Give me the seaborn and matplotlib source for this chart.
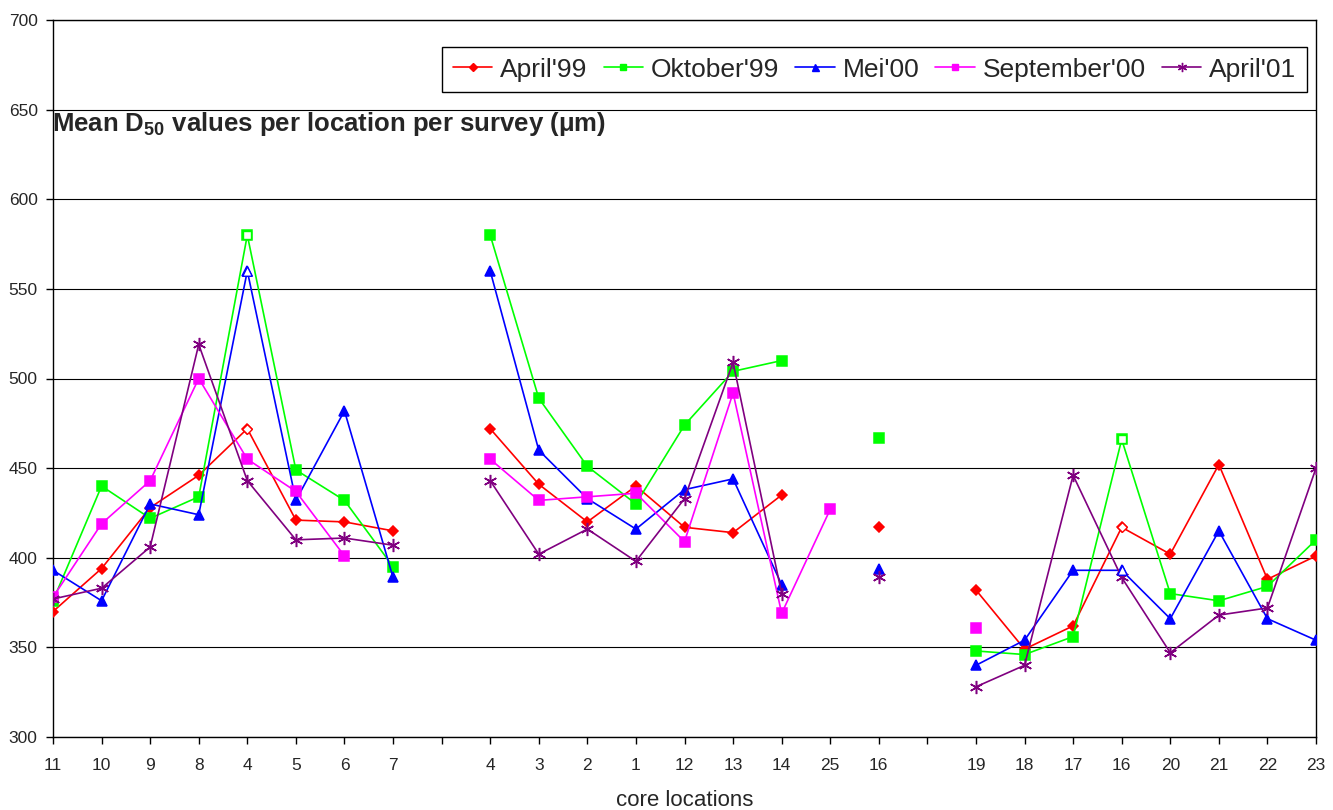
import numpy as np
import pandas as pd
import matplotlib
matplotlib.use("Agg")
import matplotlib.pyplot as plt
import seaborn as sns
from matplotlib.lines import Line2D

nan = np.nan

# ---- data -------------------------------------------------------------
locations = ['11', '10', '9', '8', '4', '5', '6', '7', '',
             '4', '3', '2', '1', '12', '13', '14', '25', '16', '',
             '19', '18', '17', '16', '20', '21', '22', '23']

april99 = [370, 394, 428, 446, 472, 421, 420, 415, nan,
           472, 441, 420, 440, 417, 414, 435, nan, 417, nan,
           382, 349, 362, 417, 402, 452, 388, 401]
oktober99 = [376, 440, 422, 434, 580, 449, 432, 395, nan,
             580, 489, 451, 430, 474, 504, 510, nan, 467, nan,
             348, 346, 356, 466, 380, 376, 384, 410]
mei00 = [393, 376, 430, 424, 560, 432, 482, 389, nan,
         560, 460, 433, 416, 438, 444, 385, nan, 394, nan,
         340, 354, 393, 393, 366, 415, 366, 354]
september00 = [378, 419, 443, 500, 455, 437, 401, nan, nan,
               455, 432, 434, 436, 409, 492, 369, 427, nan, nan,
               361, nan, nan, nan, nan, nan, nan, nan]
april01 = [377, 383, 406, 519, 443, 410, 411, 407, nan,
           443, 402, 416, 398, 433, 509, 380, nan, 389, nan,
           328, 340, 446, 389, 347, 368, 372, 450]

series_names = ["April'99", "Oktober'99", "Mei'00", "September'00", "April'01"]
series_values = [april99, oktober99, mei00, september00, april01]
# repeated locations shown with open markers
hollow_idx = {"April'99": [4, 22], "Oktober'99": [4, 22], "Mei'00": [4, 22]}

y_ticks = [300, 350, 400, 450, 500, 550, 600, 650, 700]

# ---- styles -----------------------------------------------------------
colors = ['#FF0000', '#00FF00', '#0000FF', '#FF00FF', '#800080']
markers = ['D', 's', '^', 's', (6, 2, 0)]
msizes = [5.2, 6.8, 7.2, 6.8, 9.5]

sns.set_theme(style="white")
plt.rcParams['font.family'] = ['Liberation Sans', 'DejaVu Sans']
plt.rcParams['mathtext.fontset'] = 'custom'
plt.rcParams['mathtext.rm'] = 'Liberation Sans'
plt.rcParams['mathtext.bf'] = 'Liberation Sans:bold'

W, H = 1333, 810
fig = plt.figure(figsize=(W / 100, H / 100), dpi=100)
fig.patch.set_facecolor('white')
L, R, T, B = 53, 1316, 20, 737
ax = fig.add_axes([L / W, (H - B) / H, (R - L) / W, (B - T) / H])
ax.set_facecolor('white')

positions = np.arange(len(locations))

for name, vals, c, m, ms in zip(series_names, series_values, colors, markers, msizes):
    v = np.array(vals, dtype=float)
    seg = np.cumsum(np.isnan(v))
    df = pd.DataFrame({'pos': positions, 'val': v, 'seg': seg}).dropna()
    sns.lineplot(data=df, x='pos', y='val', units='seg', estimator=None,
                 sort=False, color=c, lw=1.2, marker=m, markersize=ms,
                 markeredgecolor=c, markerfacecolor=c, markeredgewidth=1.1,
                 legend=False, ax=ax, zorder=3)
    if name in hollow_idx:
        idx = hollow_idx[name]
        sns.scatterplot(x=positions[idx], y=v[idx], marker=m, s=(ms * 0.95) ** 2,
                        facecolor='white', edgecolor=c, linewidth=1.0,
                        legend=False, ax=ax, zorder=4)

# ---- axes -------------------------------------------------------------
ax.set_xlim(0, len(locations) - 1)
ax.set_ylim(300, 700)
ax.set_xticks(positions)
ax.set_xticklabels(locations, fontsize=12.5)
ax.set_yticks(y_ticks)
ax.set_yticklabels([str(t) for t in y_ticks], fontsize=12.5)
ax.tick_params(axis='x', direction='out', length=5, width=1, color='black', pad=10, bottom=True)
ax.tick_params(axis='y', direction='out', length=5, width=1, color='black', pad=6, left=True)
ax.yaxis.grid(True, color='black', lw=0.8)
ax.xaxis.grid(False)
ax.set_axisbelow(True)
for sp in ax.spines.values():
    sp.set_visible(True)
    sp.set_color('black')
    sp.set_linewidth(1.0)

ax.set_xlabel('core locations', fontsize=16, labelpad=12)
ax.set_ylabel('')

ax.text((51.7 - L) / (R - L), (B - 131) / (B - T),
        r"Mean D$_{\mathbf{50}}$ values per location per survey (μm)",
        transform=ax.transAxes, fontsize=18.5, fontweight='bold',
        ha='left', va='baseline', zorder=5)

handles = [Line2D([0], [0], color=c, lw=1.2, marker=m, markersize=ms * 0.7,
                  markeredgecolor=c, markerfacecolor=c)
           for c, m, ms in zip(colors, markers, msizes)]
leg = ax.legend(handles, series_names, loc='upper right',
                bbox_to_anchor=((1307 - L) / (R - L), (B - 47) / (B - T)),
                ncol=5, fontsize=19, frameon=True, fancybox=False,
                edgecolor='black', borderpad=0.4, handlelength=1.5,
                handletextpad=0.3, columnspacing=0.6, borderaxespad=0)
leg.get_frame().set_linewidth(1.0)
leg.get_frame().set_alpha(1)

fig.savefig('out.png', dpi=100, facecolor='white')
